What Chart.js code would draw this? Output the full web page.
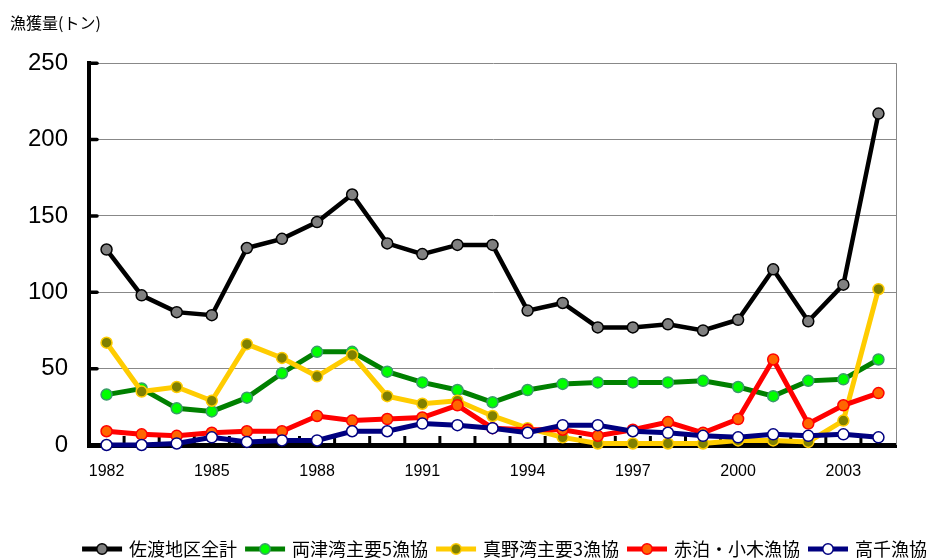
<!DOCTYPE html>
<html><head><meta charset="utf-8">
<script src="https://cdn.jsdelivr.net/npm/chart.js@4"></script>
<style>html,body{margin:0;padding:0;background:#fff}#wrap{width:931px;height:558px}</style>
</head><body><div id="wrap"><canvas id="c" width="931" height="558"></canvas></div>
<script>
const years = ['1982','1983','1984','1985','1986','1987','1988','1989','1990','1991','1992','1993','1994','1995','1996','1997','1998','1999','2000','2001','2002','2003','2004'];
const seriesNames = ['佐渡地区全計','両津湾主要5漁協','真野湾主要3漁協','赤泊・小木漁協','高千漁協'];
const sadoTotal = [128,98,87,85,129,135,146,164,132,125,131,131,88,93,77,77,79,75,82,115,81,105,217];
const ryotsu5 = [33,37,24,22,31,47,61,61,48,41,36,28,36,40,41,41,41,42,38,32,42,43,56];
const mano3 = [67,35,38,29,66,57,45,59,32,27,29,19,11,5,1,1,1,1,3,3,2,16,102];
const akadomariOgi = [9,7,6,8,9,9,19,16,17,18,26,11,10,10,6,10,15,8,17,56,14,26,34];
const takachi = [0,0,1,5,2,3,3,9,9,14,13,11,8,13,13,9,8,6,5,7,6,7,5];
const yTicks = [0,50,100,150,200,250];

const styles = [
  {line:'#000000', fill:'#808080', border:'#000000', w:4.5},
  {line:'#008000', fill:'#00FF00', border:'#3A9A6A', w:5},
  {line:'#FFCC00', fill:'#808000', border:'#FFCC00', w:5},
  {line:'#FF0000', fill:'#FF6600', border:'#FF0000', w:5},
  {line:'#000080', fill:'#FFFFFF', border:'#000080', w:5}
];
const values = [sadoTotal, ryotsu5, mano3, akadomariOgi, takachi];

function legendIcon(s){
  const c = document.createElement('canvas');
  c.width = 44; c.height = 14;
  const g = c.getContext('2d');
  g.strokeStyle = s.line; g.lineWidth = 5;
  g.beginPath(); g.moveTo(2,7); g.lineTo(42,7); g.stroke();
  g.beginPath(); g.arc(22,7,5.2,0,Math.PI*2);
  g.fillStyle = s.fill; g.fill();
  g.lineWidth = 1.5; g.strokeStyle = s.border; g.stroke();
  return c;
}
const icons = styles.map(legendIcon);

const datasets = values.map((v,i)=>({
  label: seriesNames[i],
  data: v,
  borderColor: styles[i].line,
  borderWidth: styles[i].w,
  backgroundColor: styles[i].fill,
  pointBackgroundColor: styles[i].fill,
  pointBorderColor: styles[i].border,
  pointBorderWidth: 1.5,
  pointRadius: 5.5,
  pointHoverRadius: 5.5,
  tension: 0,
  clip: false,
  order: 5 - i
}));

const deco = {
  id: 'deco',
  beforeDatasetsDraw(chart){
    const {ctx, chartArea:a, scales} = chart;
    ctx.save();
    ctx.strokeStyle = '#888'; ctx.lineWidth = 1;
    ctx.beginPath(); ctx.moveTo(Math.round(a.right)+0.5, a.top); ctx.lineTo(Math.round(a.right)+0.5, a.bottom); ctx.stroke();
    ctx.strokeStyle = '#000'; ctx.lineWidth = 3.5; ctx.lineCap = 'round';
    yTicks.forEach(t=>{
      const y = scales.y.getPixelForValue(t);
      ctx.beginPath(); ctx.moveTo(a.left, y); ctx.lineTo(a.left+8, y); ctx.stroke();
    });
    ctx.lineWidth = 3; ctx.lineCap = 'butt';
    for (let i=1;i<years.length;i++){
      const x = (scales.x.getPixelForValue(i-1)+scales.x.getPixelForValue(i))/2;
      ctx.beginPath(); ctx.moveTo(x, a.bottom); ctx.lineTo(x, a.bottom-9); ctx.stroke();
    }
    ctx.restore();
  }
};

Chart.defaults.color = '#000';
new Chart(document.getElementById('c'), {
  type: 'line',
  data: { labels: years, datasets },
  plugins: [deco],
  options: {
    responsive: false,
    animation: false,
    events: [],
    layout: { padding: {left: 10, right: -6, top: 0, bottom: -10} },
    plugins: {
      title: {
        display: true, text: '漁獲量(トン)', align: 'start', color: '#000',
        font: {family: '"Noto Sans CJK JP", sans-serif', size: 16, weight: 'normal'},
        padding: {top: 13, bottom: 31}
      },
      legend: {
        position: 'bottom', align: 'end',
        labels: {
          usePointStyle: true, pointStyleWidth: 36, padding: 10, color: '#000',
          font: {family: '"Noto Sans CJK JP", sans-serif', size: 18},
          generateLabels: () => seriesNames.map((n,i)=>({
            text: n, pointStyle: icons[i], fillStyle: styles[i].fill,
            strokeStyle: styles[i].line, lineWidth: 0, hidden: false, datasetIndex: i, fontColor: '#000'
          }))
        }
      },
      tooltip: {enabled: false}
    },
    scales: {
      x: {
        type: 'category', offset: true,
        grid: {display: false},
        border: {color: '#000', width: 5},
        ticks: {
          autoSkip: false, maxRotation: 0, padding: 9,
          font: {family: '"Liberation Sans", Arial, sans-serif', size: 16},
          callback: (v, i) => (i % 3 === 0 ? years[i] : '')
        },
        afterFit: s => { s.height = 85; }
      },
      y: {
        min: 0, max: 250,
        afterBuildTicks: s => { s.ticks = yTicks.map(v=>({value:v})); },
        grid: {color: '#888', lineWidth: 1, drawTicks: false},
        border: {color: '#000', width: 4},
        ticks: {padding: 21, font: {family: '"Liberation Sans", Arial, sans-serif', size: 24}},
        afterFit: s => { s.width = 79; }
      },
      y2: {
        position: 'right', display: true,
        grid: {display: false}, border: {display: false},
        ticks: {display: false},
        afterFit: s => { s.width = 41; }
      }
    }
  }
});
</script>
</body></html>
